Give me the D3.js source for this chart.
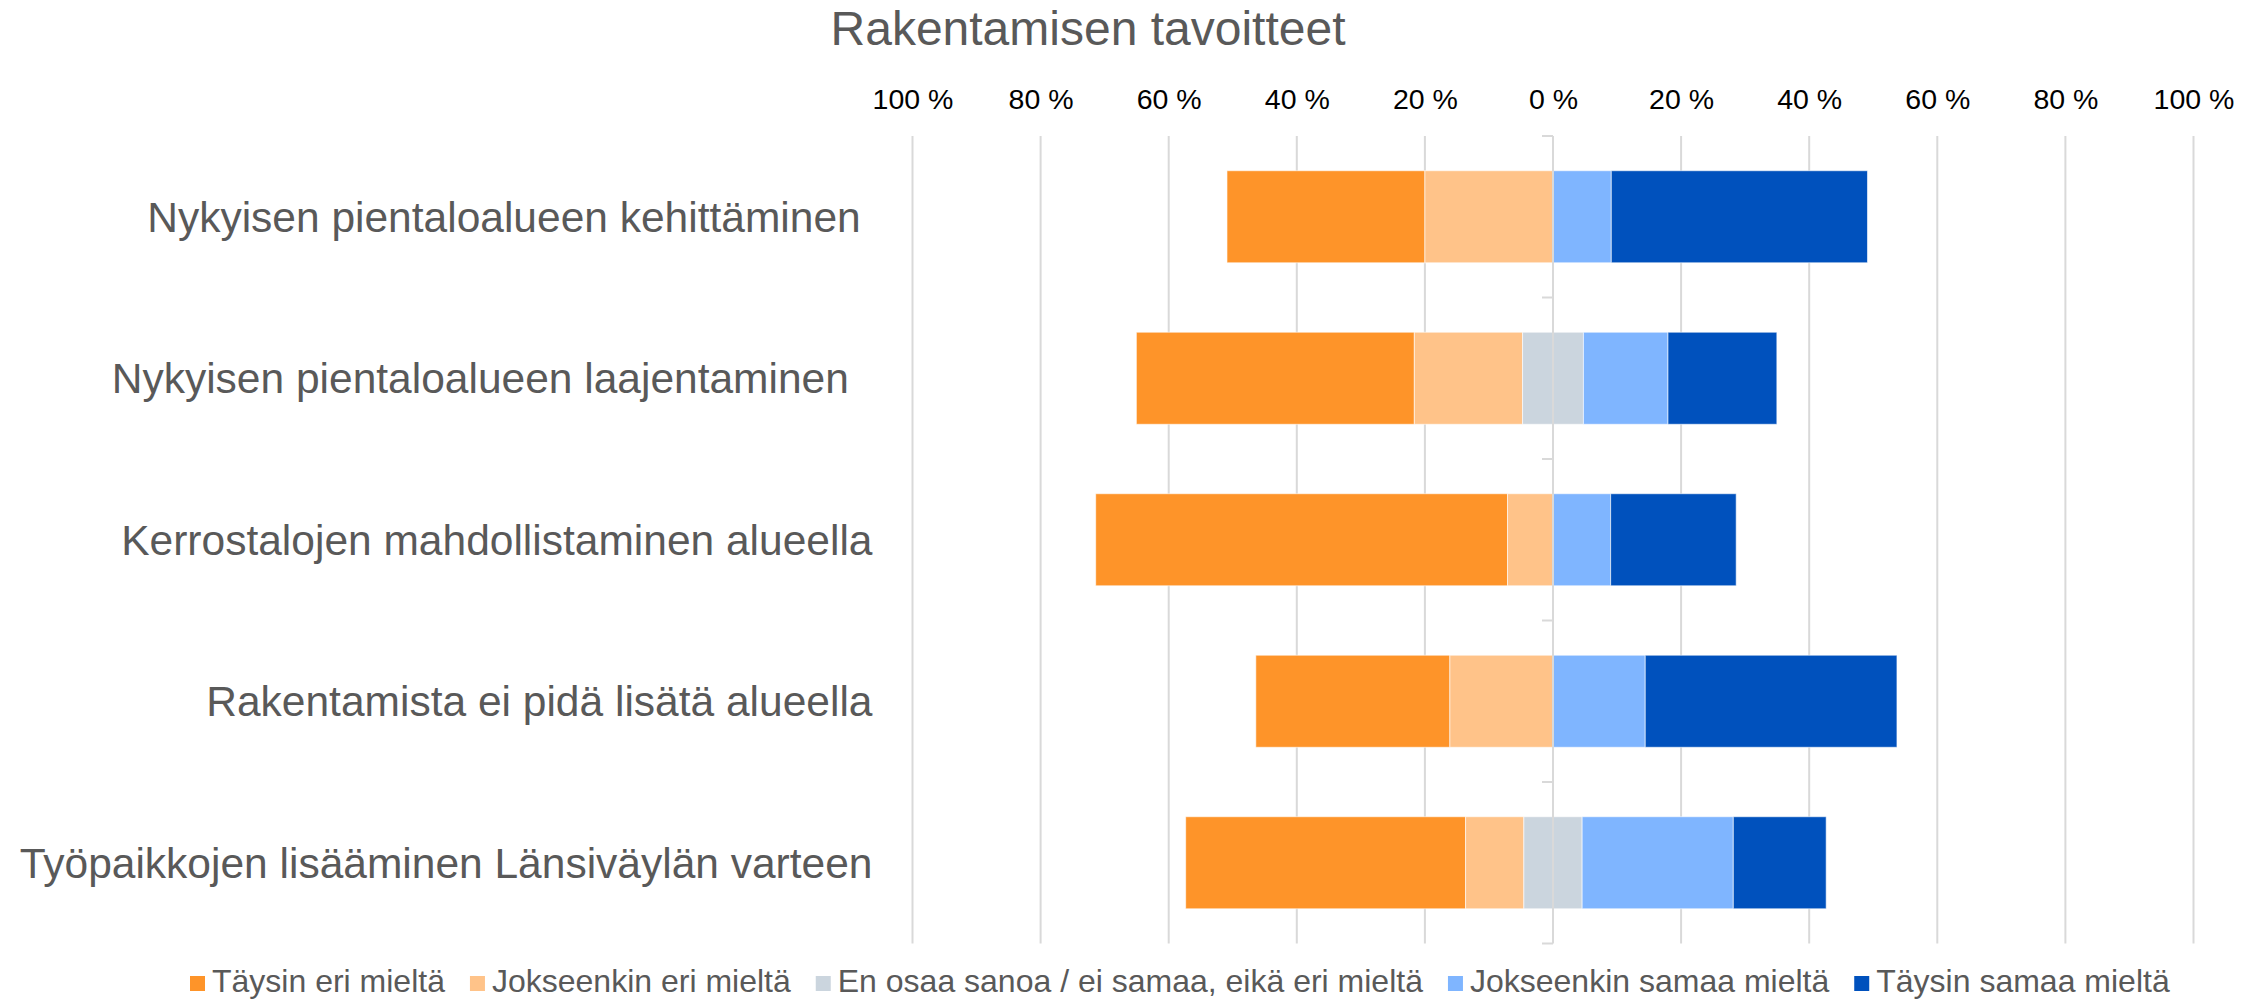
<!DOCTYPE html>
<html>
<head>
<meta charset="utf-8">
<script src="https://cdn.jsdelivr.net/npm/d3@7"></script>
<style>
  body { margin: 0; background: #fff; }
  text { font-family: "Liberation Sans", Arial, sans-serif; }
</style>
</head>
<body>
<div id="chart"></div>
<script>
var svgWidth = 2250;
var svgHeight = 1001;

// data (percent of answers)
var categories = [
  "Nykyisen pientaloalueen kehittäminen ",
  "Nykyisen pientaloalueen laajentaminen  ",
  "Kerrostalojen mahdollistaminen alueella",
  "Rakentamista ei pidä lisätä alueella",
  "Työpaikkojen lisääminen Länsiväylän varteen"
];
var taysinEri = [30.9, 43.4, 64.3, 30.3, 43.7];
var jokseenkinEri = [20.0, 16.9, 7.1, 16.1, 9.1];
var enOsaa = [0, 9.5, 0, 0, 9.1];
var jokseenkinSamaa = [9.1, 13.2, 9.0, 14.4, 23.6];
var taysinSamaa = [40.0, 17.0, 19.6, 39.3, 14.5];

var seriesNames = [
  "Täysin eri mieltä",
  "Jokseenkin eri mieltä",
  "En osaa sanoa / ei samaa, eikä eri mieltä",
  "Jokseenkin samaa mieltä",
  "Täysin samaa mieltä"
];
var colors = ["#FE9429", "#FFC389", "#CBD5DE", "#7FB5FF", "#0051BD"];
var tickValues = [-100, -80, -60, -40, -20, 0, 20, 40, 60, 80, 100];

var svg = d3.select("#chart")
  .append("svg")
  .attr("width", svgWidth)
  .attr("height", svgHeight);

var x = d3.scaleLinear()
  .domain([-100, 100])
  .range([912.5, 2193.5]);

var y = d3.scaleBand()
  .domain(categories)
  .range([136, 943.5])
  .paddingInner(0.43)
  .paddingOuter(0.215);

// build diverging segments: neutral split around zero
var segments = [];
categories.forEach((c, i) => {
  var half = enOsaa[i] / 2;
  var vals = [taysinEri[i], jokseenkinEri[i], enOsaa[i], jokseenkinSamaa[i], taysinSamaa[i]];
  var start = -(half + jokseenkinEri[i] + taysinEri[i]);
  vals.forEach((v, k) => {
    segments.push({ cat: c, x0: start, x1: start + v, k: k });
    start += v;
  });
});

// title
svg.append("text")
  .attr("x", 1088)
  .attr("y", 45)
  .attr("text-anchor", "middle")
  .style("font-size", "48px")
  .attr("fill", "#595959")
  .text("Rakentamisen tavoitteet");

// gridlines
svg.append("g")
  .selectAll("line")
  .data(tickValues.filter(d => d !== 0))
  .enter()
  .append("line")
  .attr("x1", d => x(d))
  .attr("x2", d => x(d))
  .attr("y1", y.range()[0])
  .attr("y2", y.range()[1])
  .attr("stroke", "#D9D9D9")
  .attr("stroke-width", 2);

// top axis labels
var topAxis = d3.axisTop(x)
  .tickValues(tickValues)
  .tickSize(0)
  .tickFormat(d => Math.abs(d) + " %");

var axisG = svg.append("g")
  .attr("transform", "translate(0, 109)")
  .call(topAxis);
axisG.select(".domain").remove();
axisG.selectAll("text")
  .attr("dy", 0)
  .attr("y", 0)
  .attr("fill", "#000")
  .style("font-size", "28.5px")
  .style("font-family", "'Liberation Sans', Arial, sans-serif");

// bars
svg.append("g")
  .selectAll("rect")
  .data(segments.filter(d => d.x1 > d.x0))
  .enter()
  .append("rect")
  .attr("x", d => x(d.x0))
  .attr("width", d => x(d.x1) - x(d.x0))
  .attr("y", d => y(d.cat))
  .attr("height", y.bandwidth())
  .attr("fill", d => colors[d.k])
  .attr("stroke", "rgba(255,255,255,0.6)")
  .attr("stroke-width", 1);

// category axis at zero with ticks on band boundaries
var gap = (y.step() - y.bandwidth()) / 2;
var bounds = categories.map(c => y(c) - gap);
bounds.push(y(categories[categories.length - 1]) + y.bandwidth() + gap);

var catAxis = svg.append("g");
catAxis.append("line")
  .attr("x1", x(0))
  .attr("x2", x(0))
  .attr("y1", bounds[0])
  .attr("y2", bounds[bounds.length - 1])
  .attr("stroke", "#D9D9D9")
  .attr("stroke-width", 2);
catAxis.selectAll(".tk")
  .data(bounds)
  .enter()
  .append("line")
  .attr("class", "tk")
  .attr("x1", x(0) - 11)
  .attr("x2", x(0))
  .attr("y1", d => d)
  .attr("y2", d => d)
  .attr("stroke", "#D9D9D9")
  .attr("stroke-width", 2);

// category labels
svg.append("g")
  .selectAll("text")
  .data(categories)
  .enter()
  .append("text")
  .attr("x", x(-100) - 40)
  .attr("y", d => y(d) + y.bandwidth() / 2)
  .attr("dy", "0.35em")
  .attr("text-anchor", "end")
  .style("white-space", "pre")
  .style("font-size", "42.5px")
  .attr("fill", "#595959")
  .text(d => d);

// legend
var legend = svg.append("g").attr("transform", "translate(190, 992)");
var lx = 0;
seriesNames.forEach((name, i) => {
  legend.append("rect")
    .attr("x", lx)
    .attr("y", -16)
    .attr("width", 15)
    .attr("height", 15)
    .attr("fill", colors[i]);
  var t = legend.append("text")
    .attr("x", lx + 22)
    .attr("y", 0)
    .style("font-size", "32px")
    .attr("fill", "#595959")
    .text(name);
  lx += 22 + t.node().getComputedTextLength() + 25;
});
</script>
</body>
</html>
